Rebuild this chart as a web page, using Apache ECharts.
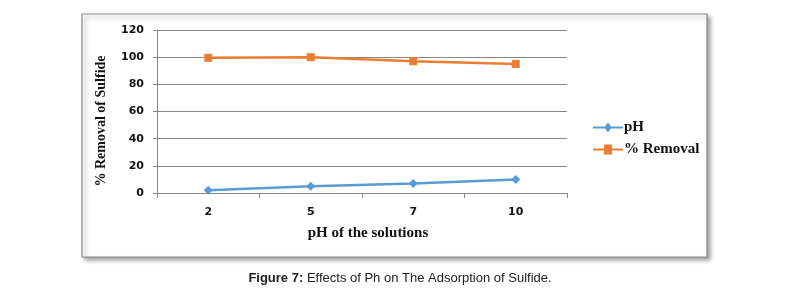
<!DOCTYPE html>
<html><head><meta charset="utf-8">
<script src="https://cdn.jsdelivr.net/npm/echarts@6/dist/echarts.min.js"></script>
<style>html,body{margin:0;padding:0;background:#fff}#c{width:785px;height:291px}</style>
</head><body><div id="c"></div>
<script>
var categories = ['2', '5', '7', '10'];
var phValues = [2, 5, 7, 10];
var removalValues = [99.5, 100, 97, 95];
var yTicks = { min: 0, max: 120, interval: 20 };

var serif = 'Liberation Serif, Times New Roman, serif';
var tickFont = 'DejaVu Sans, Verdana, sans-serif';

var chart = echarts.init(document.getElementById('c'), null, { renderer: 'canvas' });
chart.setOption({
  animation: false,
  backgroundColor: '#fff',
  graphic: [
    { type: 'rect', shape: { x: 82, y: 14, width: 625, height: 243 }, z: -10,
      style: { fill: '#fff', stroke: '#8a8a8a', lineWidth: 1.2,
        shadowColor: 'rgba(0,0,0,0.35)', shadowBlur: 4, shadowOffsetX: 3, shadowOffsetY: 3 } },
    { type: 'text', x: 101, y: 121, rotation: Math.PI / 2, z: 10,
      style: { text: '% Removal of Sulfide', fontFamily: serif, fontWeight: 'bold', fontSize: 14,
        fill: '#111', align: 'center', verticalAlign: 'middle' } },
    { type: 'text', x: 400, y: 278, z: 10,
      style: { text: '{b|Figure 7:} Effects of Ph on The Adsorption of Sulfide.',
        align: 'center', verticalAlign: 'middle',
        rich: { b: { fontFamily: 'Liberation Sans, Arial', fontWeight: 'bold', fontSize: 13, fill: '#222' } },
        fontFamily: 'Liberation Sans, Arial', fontSize: 13, fill: '#222' } }
  ],
  grid: { left: 157, right: 218, top: 30, bottom: 98, containLabel: false },
  legend: {
    orient: 'vertical', left: 588, top: 115, itemGap: 7, itemWidth: 30, itemHeight: 10,
    textStyle: { fontFamily: serif, fontWeight: 'bold', fontSize: 15, color: '#111', padding: [0, 0, 0, -4] },
    data: [{ name: 'pH', icon: 'path://M0,4 L12,4 L15,0 L18,4 L30,4 L30,6 L18,6 L15,10 L12,6 L0,6 Z' },
           { name: '% Removal', icon: 'path://M0,4 L11,4 L11,0 L19,0 L19,4 L30,4 L30,6 L19,6 L19,10 L11,10 L11,6 L0,6 Z' }]
  },
  xAxis: {
    type: 'category', data: categories, boundaryGap: true,
    name: 'pH of the solutions', nameLocation: 'middle', nameGap: 33,
    nameTextStyle: { fontFamily: serif, fontWeight: 'bold', fontSize: 15, color: '#111', padding: [0, 0, 0, 12] },
    axisLine: { lineStyle: { color: '#888', width: 1 } },
    axisTick: { show: true, length: 5, lineStyle: { color: '#888' } },
    axisLabel: { margin: 14, fontFamily: tickFont, fontWeight: 'bold', fontSize: 11, color: '#111' }
  },
  yAxis: {
    type: 'value', min: yTicks.min, max: yTicks.max, interval: yTicks.interval,
    axisLine: { show: true, lineStyle: { color: '#888', width: 1 } },
    axisTick: { show: true, length: 4, lineStyle: { color: '#888' } },
    axisLabel: { margin: 13, fontFamily: tickFont, fontWeight: 'bold', fontSize: 11, color: '#111' },
    splitLine: { lineStyle: { color: '#888', width: 1 } }
  },
  series: [
    { name: 'pH', type: 'line', data: phValues, symbol: 'diamond', symbolSize: 9,
      lineStyle: { color: '#5B9BD5', width: 2.5 }, itemStyle: { color: '#5B9BD5' } },
    { name: '% Removal', type: 'line', data: removalValues, symbol: 'rect', symbolSize: 8,
      lineStyle: { color: '#ED7D31', width: 2.5 }, itemStyle: { color: '#ED7D31' } }
  ]
});
</script></body></html>
